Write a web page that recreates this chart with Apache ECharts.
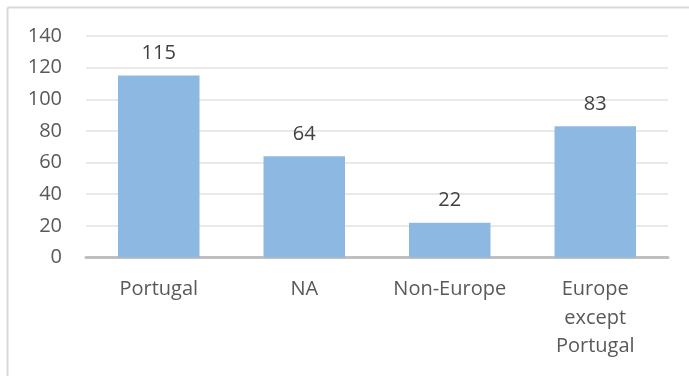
<!DOCTYPE html>
<html><head><meta charset="utf-8">
<script src="https://cdn.jsdelivr.net/npm/echarts@6/dist/echarts.min.js"></script>
<style>html,body{margin:0;padding:0;background:#fff}#c{width:689px;height:376px}</style>
</head><body><div id="c"></div>
<script>
const categories = ['Portugal', 'NA', 'Non-Europe', 'Europe\nexcept\nPortugal'];
const values = [115, 64, 22, 83];
const yTicks = {min: 0, max: 140, interval: 20};

const chart = echarts.init(document.getElementById('c'), null, {renderer: 'canvas'});
const font = '"Open Sans", sans-serif';
chart.setOption({
  animation: false,
  backgroundColor: '#fff',
  graphic: [
    {type: 'line', shape: {x1: 7.5, y1: 7.5, x2: 689, y2: 7.5}, style: {stroke: '#d9d9d9', lineWidth: 2}},
    {type: 'line', shape: {x1: 7.5, y1: 7.5, x2: 7.5, y2: 376}, style: {stroke: '#d9d9d9', lineWidth: 2}}
  ],
  grid: {left: 86, right: 21, top: 36, bottom: 118.5, containLabel: false},
  xAxis: {
    type: 'category', data: categories,
    axisLine: {lineStyle: {color: '#bfbfbf', width: 3}},
    axisTick: {show: false},
    axisLabel: {color: '#595959', fontSize: 20, fontFamily: font, margin: 18, lineHeight: 28.5, interval: 0}
  },
  yAxis: {
    type: 'value', min: yTicks.min, max: yTicks.max, interval: yTicks.interval,
    axisLine: {show: false}, axisTick: {show: false},
    splitLine: {lineStyle: {color: '#e9e9e9', width: 2}},
    axisLabel: {color: '#595959', fontSize: 20, fontFamily: font, margin: 24}
  },
  series: [{
    type: 'bar', data: values, barWidth: '56%',
    itemStyle: {color: '#8cb8e1'},
    label: {show: true, position: 'top', distance: 12, color: '#404040', fontSize: 20, fontFamily: font}
  }]
});
</script></body></html>
